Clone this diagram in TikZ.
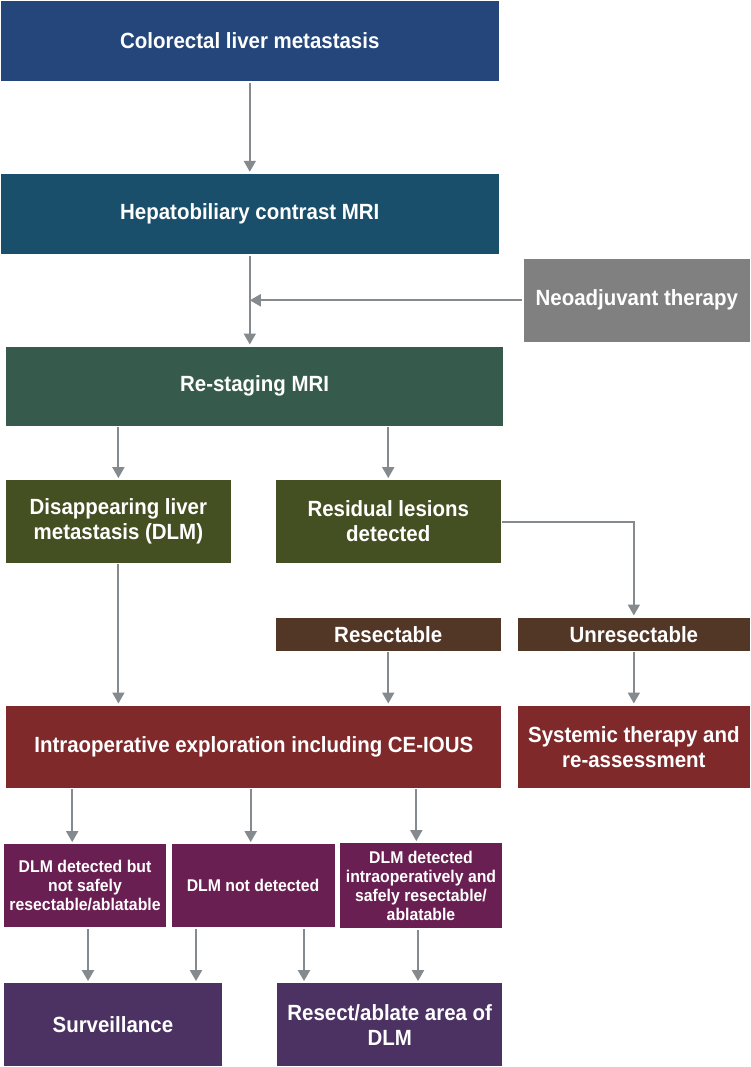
\documentclass[tikz,border=0pt]{standalone}
\usepackage{fontspec}
\setmainfont{Liberation Sans}[FakeStretch=0.93]
\usetikzlibrary{arrows.meta}
\definecolor{cA}{HTML}{24467A}
\definecolor{cB}{HTML}{1A4F6C}
\definecolor{cC}{HTML}{365B4C}
\definecolor{cG}{HTML}{808080}
\definecolor{cO}{HTML}{444F22}
\definecolor{cR}{HTML}{523626}
\definecolor{cD}{HTML}{7F292A}
\definecolor{cM}{HTML}{6A1F52}
\definecolor{cP}{HTML}{4B3262}
\definecolor{cArr}{HTML}{858A8E}
\begin{document}
\begin{tikzpicture}[x=1pt,y=-1pt,
  box/.style={inner sep=0pt, text=white, align=center, font=\bfseries\fontsize{22}{25}\selectfont},
  sbox/.style={box, font=\bfseries\fontsize{17}{19}\selectfont},
  arr/.style={draw=cArr, line width=2pt, -{Triangle[width=12pt,length=11pt]}, shorten <=1.5pt, shorten >=2pt}
]
\useasboundingbox (0,0) rectangle (750,1067);
\node[box, fill=cA, minimum width=497.6pt, minimum height=80pt] (n1) at (249.8,41) {Colorectal liver metastasis};
\node[box, fill=cB, minimum width=497.6pt, minimum height=80pt] (n2) at (249.8,214) {Hepatobiliary contrast MRI};
\node[box, fill=cG, minimum width=226.4pt, minimum height=82.7pt] (neo) at (636.8,300.3) {Neoadjuvant therapy};
\node[box, fill=cC, minimum width=497.6pt, minimum height=79pt] (n3) at (254.6,386.2) {Re-staging MRI};
\node[box, fill=cO, minimum width=224.4pt, minimum height=82.4pt] (dlm) at (118.4,521.5) {Disappearing liver\\metastasis (DLM)};
\node[box, fill=cO, minimum width=224.5pt, minimum height=82.4pt] (res) at (388.25,521.5) {Residual lesions\\detected};
\node[box, fill=cR, minimum width=224.5pt, minimum height=33pt] (rsc) at (388.25,634.2) {Resectable};
\node[box, fill=cR, minimum width=232.3pt, minimum height=33pt] (unr) at (633.85,634.2) {Unresectable};
\node[box, fill=cD, minimum width=495.2pt, minimum height=82pt] (intra) at (253.8,746.7) {Intraoperative exploration including CE-IOUS};
\node[box, fill=cD, minimum width=232.3pt, minimum height=82pt] (sys) at (633.85,746.7) {Systemic therapy and\\re-assessment};
\node[sbox, fill=cM, minimum width=162.5pt, minimum height=82.7pt] (a) at (85.05,885.65) {DLM detected but\\not safely\\resectable/ablatable};
\node[sbox, fill=cM, minimum width=163pt, minimum height=82.7pt] (b) at (253.1,885.65) {DLM not detected};
\node[sbox, fill=cM, minimum width=162pt, minimum height=84.7pt] (c) at (421,885.65) {DLM detected\\intraoperatively and\\safely resectable/\\ablatable};
\node[box, fill=cP, minimum width=218.2pt, minimum height=82.7pt] (surv) at (112.9,1024.65) {Surveillance};
\node[box, fill=cP, minimum width=224.6pt, minimum height=82.7pt] (resect) at (389.7,1024.65) {Resect/ablate area of\\DLM};
\coordinate (xa) at (72.2,0);
\coordinate (xb) at (250.7,0);
\coordinate (xc) at (416.3,0);
\coordinate (xd) at (88,0);
\coordinate (xe) at (196,0);
\coordinate (xf) at (304,0);
\coordinate (xg) at (418,0);
\draw[arr] (n1.south) -- (n2.north);
\draw[arr] (n2.south) -- (n2.south |- n3.north);
\draw[arr, shorten >=0pt] (neo.west) -- (neo.west -| n2.south);
\draw[arr] (dlm.north |- n3.south) -- (dlm.north);
\draw[arr] (res.north |- n3.south) -- (res.north);
\draw[arr] (res.east) -| (unr.north);
\draw[arr] (rsc.south) -- (rsc.south |- intra.north);
\draw[arr] (unr.south) -- (sys.north);
\draw[arr] (dlm.south) -- (dlm.south |- intra.north);
\draw[arr] (intra.south -| xa) -- (a.north -| xa);
\draw[arr] (intra.south -| xb) -- (b.north -| xb);
\draw[arr] (intra.south -| xc) -- (c.north -| xc);
\draw[arr] (a.south -| xd) -- (surv.north -| xd);
\draw[arr] (b.south -| xe) -- (surv.north -| xe);
\draw[arr] (b.south -| xf) -- (resect.north -| xf);
\draw[arr] (c.south -| xg) -- (resect.north -| xg);
\end{tikzpicture}
\end{document}
